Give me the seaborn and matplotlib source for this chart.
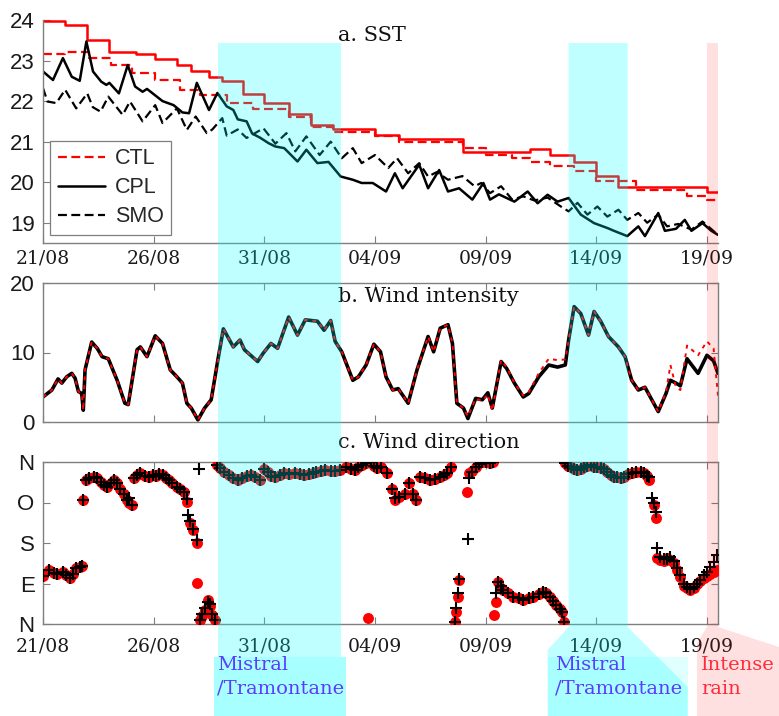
import numpy as np
import pandas as pd
import matplotlib
matplotlib.use("Agg")
import matplotlib.pyplot as plt
import seaborn as sns
from matplotlib.lines import Line2D
from matplotlib.patches import Polygon

# ---- x axis (days since 21/08) ----
tick_days = [0, 5, 10, 15, 20, 25, 30]
tick_labels = ["21/08", "26/08", "31/08", "04/09", "09/09", "14/09", "19/09"]
day_max = 30.5

# ---- event periods ----
mistral_periods = [(7.9, 13.45), (23.75, 26.42)]
rain_period = (30.0, 30.5)

# ---- a. SST ----
# red solid (step) and CTL red dashed (step): start day of each step, value
ref_step_days = [0, 1.0, 2.0, 3.0, 4.2, 5.07, 6.05, 6.7, 7.5, 8.1, 9.05, 10.0, 11.1, 12.1,
                 13.1, 15.0, 16.1, 19.0, 22.0, 22.9, 24.0, 25.0, 26.0, 30.0, 30.5]
ref_step_sst = [23.97, 23.88, 23.5, 23.22, 23.15, 23.05, 22.89, 22.75, 22.6, 22.5, 22.18, 21.95,
                21.68, 21.41, 21.31, 21.17, 21.06, 20.75, 20.81, 20.67, 20.51, 20.16, 19.88, 19.77, 19.77]
ctl_step_days = [0, 1.0, 2.1, 3.05, 4.0, 5.07, 6.2, 7.1, 8.3, 9.5, 11.1, 12.1, 13.1, 15.0,
                 16.1, 19.0, 20.0, 21.2, 22.0, 22.9, 24.0, 25.0, 26.8, 29.1, 30.0, 30.5]
ctl_step_sst = [23.15, 23.22, 23.06, 22.89, 22.69, 22.52, 22.28, 22.15, 21.95, 21.81, 21.6, 21.37,
                21.25, 21.13, 21.0, 20.84, 20.67, 20.59, 20.51, 20.4, 20.27, 20.03, 19.81, 19.65,
                19.57, 19.57]

cpl_days = [0.0, 0.45, 0.9, 1.3, 1.66, 1.96, 2.26, 2.63, 2.86, 3.0, 3.43, 3.83, 4.16, 4.5, 4.7,
            5.4, 5.9, 6.3, 6.6, 6.95, 7.5, 7.88, 8.3, 8.6, 8.8, 9.2, 9.45, 9.8, 10.2, 10.5,
            10.9, 11.5, 11.9, 12.4, 12.9, 13.45, 14.0, 14.4, 14.9, 15.5, 15.9, 16.25, 17.0,
            17.4, 17.9, 18.3, 18.8, 19.4, 19.9, 20.2, 20.6, 21.3, 21.9, 22.35, 22.8, 23.25,
            23.75, 24.3, 24.9, 25.5, 25.8, 26.4, 26.9, 27.2, 27.8, 28.1, 28.6, 29.0, 29.3,
            29.8, 30.2, 30.5]
cpl_sst = [22.73, 22.52, 23.06, 22.6, 22.5, 23.47, 22.73, 22.48, 22.4, 22.45, 22.19, 22.89, 22.36,
           22.23, 22.3, 22.0, 21.9, 21.72, 21.7, 22.45, 21.78, 22.2, 21.87, 21.78, 21.55, 21.5,
           21.2, 21.1, 20.96, 20.88, 20.84, 20.51, 20.8, 20.47, 20.5, 20.14, 20.06, 19.98, 19.98,
           19.77, 20.22, 19.85, 20.43, 19.85, 20.3, 19.77, 19.85, 19.57, 19.98, 19.57, 19.7,
           19.52, 19.77, 19.48, 19.69, 19.52, 19.61, 19.2, 18.99, 18.87, 18.8, 18.67, 18.91,
           18.67, 19.24, 18.8, 18.85, 19.07, 18.8, 18.99, 18.8, 18.7]

smo_days = [0.0, 0.2, 0.6, 1.0, 1.5, 2.0, 2.25, 2.6, 2.95, 3.6, 3.93, 4.5, 5.07, 5.4, 6.05, 6.5,
            6.9, 7.4, 7.65, 8.1, 8.3, 8.8, 9.2, 9.96, 10.5, 11.0, 11.4, 11.9, 12.5, 13.0, 13.5,
            14.0, 14.4, 15.0, 15.6, 16.0, 16.5, 17.0, 17.4, 17.8, 18.3, 18.95, 19.5, 19.8, 20.2,
            20.7, 21.2, 21.7, 22.2, 22.8, 23.4, 23.75, 24.15, 24.6, 25.05, 25.5, 26.0, 26.4,
            26.9, 27.3, 27.8, 28.2, 28.7, 29.3, 29.8, 30.5]
smo_sst = [22.32, 21.99, 21.95, 22.28, 21.82, 22.19, 21.85, 21.74, 22.11, 21.66, 21.99, 21.5,
           21.9, 21.46, 21.82, 21.29, 21.62, 21.21, 21.3, 21.58, 21.15, 21.3, 21.09, 21.33,
           20.95, 21.21, 20.76, 21.13, 20.67, 21.0, 20.59, 20.84, 20.47, 20.67, 20.35, 20.59,
           20.22, 20.47, 20.14, 20.25, 20.06, 20.15, 19.9, 19.98, 19.73, 19.9, 19.57, 19.65,
           19.55, 19.62, 19.4, 19.28, 19.49, 19.2, 19.4, 19.15, 19.32, 19.07, 19.24, 19.0,
           19.2, 18.91, 18.97, 18.83, 19.03, 18.7]

# ---- b. Wind intensity ----
wind_days = [0.0, 0.4, 0.68, 0.85, 1.07, 1.3, 1.45, 1.6, 1.75, 1.82, 1.9, 2.2, 2.45, 2.67,
             2.95, 3.35, 3.7, 3.85, 4.25, 4.4, 4.7, 5.07, 5.4, 5.75, 6.05, 6.3, 6.5, 6.7, 7.0,
             7.3, 7.6, 7.9, 8.15, 8.6, 8.9, 9.1, 9.7, 9.95, 10.3, 10.6, 11.1, 11.5, 11.85,
             12.4, 12.7, 13.0, 13.2, 13.5, 14.0, 14.25, 14.6, 14.95, 15.25, 15.5, 15.8, 16.05,
             16.5, 16.9, 17.4, 17.65, 17.95, 18.3, 18.5, 18.7, 19.0, 19.2, 19.55, 19.85, 20.1,
             20.3, 20.7, 20.95, 21.3, 21.7, 21.95, 22.4, 22.85, 23.25, 23.6, 23.75, 24.0, 24.3,
             24.65, 24.9, 25.2, 25.55, 26.0, 26.3, 26.6, 26.9, 27.2, 27.8, 28.15, 28.35, 28.6,
             28.8, 29.1, 29.6, 30.0, 30.3, 30.5]
wind_cpl = [3.6, 4.6, 6.2, 5.6, 6.5, 7.0, 6.3, 4.4, 4.1, 1.7, 7.5, 11.5, 10.6, 9.4, 9.1, 6.0,
            2.7, 2.5, 10.4, 10.8, 9.4, 12.4, 11.3, 7.5, 6.5, 5.6, 2.7, 2.0, 0.3, 2.0, 3.2, 8.9,
            13.4, 10.8, 11.8, 10.4, 8.7, 9.9, 11.3, 10.6, 15.1, 12.5, 14.7, 14.5, 13.2, 14.6,
            11.6, 10.1, 6.0, 6.5, 8.2, 11.2, 10.1, 6.5, 4.6, 4.8, 2.7, 7.5, 12.3, 10.1, 13.5,
            14.0, 11.3, 2.7, 2.0, 0.5, 3.4, 3.2, 4.2, 2.0, 8.7, 7.7, 5.6, 3.6, 4.1, 6.5, 8.2,
            7.9, 8.2, 11.8, 16.6, 15.6, 12.5, 15.9, 14.5, 12.3, 10.8, 9.4, 6.0, 4.6, 5.0, 1.5,
            4.1, 6.0, 5.6, 5.2, 9.1, 7.0, 9.6, 8.8, 7.0]
wind_ctl = [3.6, 4.6, 6.2, 5.6, 6.5, 7.0, 6.3, 4.4, 4.1, 1.7, 7.5, 11.5, 10.6, 9.4, 9.1, 6.0,
            2.7, 2.5, 10.4, 10.8, 9.4, 12.4, 11.3, 7.5, 6.5, 5.6, 2.7, 2.0, 0.3, 2.0, 3.2, 8.9,
            13.4, 10.8, 11.8, 10.4, 8.7, 9.9, 11.3, 10.6, 15.1, 12.5, 14.7, 14.5, 13.2, 14.6,
            11.6, 10.1, 6.0, 6.5, 8.2, 11.2, 10.1, 6.5, 4.6, 4.8, 2.7, 7.5, 12.3, 10.1, 13.5,
            14.0, 11.3, 2.7, 2.0, 0.8, 3.4, 3.0, 4.0, 1.6, 8.9, 7.9, 5.6, 3.8, 4.3, 7.0, 9.1,
            8.9, 9.0, 11.8, 16.6, 15.6, 12.5, 15.9, 14.5, 12.3, 10.8, 9.4, 6.0, 4.6, 5.0, 1.5,
            4.3, 8.2, 5.0, 4.6, 11.0, 9.6, 11.6, 10.6, 3.8]

# ---- c. Wind direction (deg, N=0/360) ----
dir_days = [0.0, 0.25, 0.5, 0.62, 0.9, 1.05, 1.2, 1.35, 1.5, 1.65, 1.75, 1.82,
            1.95, 2.1, 2.3, 2.45, 2.6, 2.75, 2.9, 3.05, 3.2, 3.35, 3.5, 3.65, 3.8, 3.9, 4.0,
            4.1, 4.25, 4.4, 4.6, 4.8, 4.95, 5.1, 5.25, 5.4, 5.55, 5.7, 5.85, 6.05, 6.2, 6.35,
            6.5, 6.57, 6.65, 6.8, 6.95, 6.98, 7.07, 7.1, 7.2, 7.3, 7.45, 7.55, 7.65, 7.75,
            7.85, 8.0, 8.2, 8.4, 8.6, 8.8, 9.0, 9.2, 9.4, 9.6, 9.8, 10.0, 10.15, 10.3, 10.5,
            10.7, 10.9, 11.1, 11.4, 11.6, 11.8, 12.0, 12.2, 12.35, 12.55, 12.75, 13.0, 13.2,
            13.4, 13.7, 13.9, 14.1, 14.25, 14.4, 14.6, 14.7, 14.8, 14.95, 15.1, 15.25, 15.55,
            15.75, 15.9, 16.1, 16.35, 16.55, 16.7, 16.85, 17.05, 17.25, 17.5, 17.7, 17.95,
            18.1, 18.25, 18.45, 18.6, 18.68, 18.75, 18.8, 19.17, 19.2, 19.25, 19.4, 19.55,
            19.7, 19.85, 20.0, 20.2, 20.35, 20.4, 20.45, 20.55, 20.7, 20.8, 21.0, 21.25,
            21.5, 21.7, 21.95, 22.15, 22.4, 22.6, 22.75, 22.9, 23.05, 23.2, 23.35, 23.45,
            23.55, 23.58, 23.7, 23.85, 24.0, 24.15, 24.3, 24.45, 24.6, 24.75, 24.9, 25.05,
            25.2, 25.35, 25.5, 25.65, 25.8, 25.95, 26.1, 26.25, 26.45, 26.6, 26.8, 27.0,
            27.15, 27.3, 27.4, 27.5, 27.6, 27.7, 27.75, 27.9, 28.05, 28.2, 28.35, 28.5,
            28.65, 28.8, 28.95, 29.1, 29.25, 29.4, 29.55, 29.7, 29.85, 30.0, 30.15, 30.3,
            30.45]
nan = np.nan
dir_ctl = [106, 120, 113, 111, 116, 110, 102, 112, 124, 127, 129, 276,
           320, 324, 327, 324, 316, 310, 305, 314, 320, 313, 300, 290, 276, 270, 264,
           325, 332, 335, 330, 327, 331, 330, 333, 331, 325, 320, 313, 305, 300, 294,
           272, nan, 224, 209, 180, 91, nan, 9, 18, 31, 53, 40, 20, 9,
           353, 346, 338, 331, 325, 320, 324, 328, 331, 326, 320, 345, 338, 330, 327,
           331, 335, 333, 335, 333, 331, 334, 336, 338, 340, 342, 340, 341,
           342, 350, 345, 342, 348, 353, 357, 13, 360, 352, 346, 350, 335,
           300, 276, 283, 290, 313, 290, 276, 327, 325, 320, 323, 327,
           331, 335, 350, 5, 27, 60, 98, 294, nan, 335, 340, 350,
           357, 359, 360, 358, 360, 20, 50, 94, 80, 76, 70, 61,
           58, 53, 58, 61, 66, 72, 68, 61, 52, 42, 33, 27,
           5, 357, 352, 348, 344, 342, 345, 348, 351, 353, 350, 349,
           346, 344, 338, 331, 327, 326, 325, 327, 333, 335, 337, 338,
           336, 330, 320, nan, 264, 235, 146, 143, 140, 147, 142, 135,
           120, 105, 85, 80, 76, 80, 88, 95, 102, 107, 112, 116,
           120]
dir_cpl = [106, 120, 113, 111, 116, 110, 102, 112, 124, 127, 129, 276,
           320, 324, 327, 324, 316, 310, 305, 314, 320, 313, 300, 290, 276, 280, 264,
           325, 332, 335, 330, 327, 331, 330, 333, 331, 325, 320, 313, 305, 300, 294,
           278, 242, 228, 212, 187, nan, 344, 9, 22, 35, 50, 45, 22, 9,
           353, 346, 338, 331, 325, 320, 324, 328, 331, 326, 320, 345, 338, 330, 327,
           331, 335, 333, 335, 333, 331, 334, 336, 338, 340, 342, 340, 341,
           342, 350, 345, 342, 348, 353, 357, nan, 360, 352, 346, 350, 335,
           300, 280, 283, 290, 313, 290, 276, 327, 325, 320, 323, 327,
           331, 335, 350, 5, 35, 68, 101, nan, 190, 324, 338, 348,
           355, 359, 360, 358, 360, nan, 69, 94, 85, 76, 70, 61,
           58, 53, 58, 61, 66, 72, 68, 61, 52, 42, 33, 27,
           5, 357, 352, 348, 344, 342, 345, 348, 351, 353, 350, 349,
           346, 344, 338, 331, 327, 326, 325, 327, 333, 335, 337, 338,
           336, 330, 327, 279, 268, 250, 168, 150, 145, 145, 150, 140,
           125, 108, 90, 82, 78, 83, 90, 98, 108, 116, 127, 137,
           153]
dir_ticks = [0, 90, 180, 270, 360]
dir_labels = ["N", "E", "S", "O", "N"]

# ---------------------------------------------------------------
sns.set_theme(style="white")
plt.rcParams["font.family"] = ["DejaVu Serif", "DejaVu Sans"]

W, H = 779, 716
fig = plt.figure(figsize=(W / 100, H / 100), dpi=100)


def px_rect(left, top, right, bottom):
    return [left / W, 1 - bottom / H, (right - left) / W, (bottom - top) / H]


ax_a = fig.add_axes(px_rect(43, 20, 718, 243))
ax_b = fig.add_axes(px_rect(43, 283, 718, 422))
ax_c = fig.add_axes(px_rect(43, 462, 718, 624))

red = "#ff0000"
dash = (0, (4, 2))

# panel a
sns.lineplot(x=ref_step_days, y=ref_step_sst, ax=ax_a, color=red, lw=1.8,
             drawstyle="steps-post", estimator=None, sort=False)
sns.lineplot(x=ctl_step_days, y=ctl_step_sst, ax=ax_a, color=red, lw=1.6,
             drawstyle="steps-post", linestyle=dash, estimator=None, sort=False)
sns.lineplot(x=smo_days, y=smo_sst, ax=ax_a, color="black", lw=1.6,
             linestyle=dash, estimator=None, sort=False)
sns.lineplot(x=cpl_days, y=cpl_sst, ax=ax_a, color="black", lw=1.8,
             estimator=None, sort=False)
ax_a.set_ylim(18.5, 24)
ax_a.set_yticks([19, 20, 21, 22, 23, 24])

# panel b
sns.lineplot(x=wind_days, y=wind_cpl, ax=ax_b, color="black", lw=2.6,
             estimator=None, sort=False)
sns.lineplot(x=wind_days, y=wind_ctl, ax=ax_b, color=red, lw=1.4,
             linestyle=(0, (2, 2.5)), estimator=None, sort=False)
ax_b.set_ylim(0, 20)
ax_b.set_yticks([0, 10, 20])

# panel c
sns.scatterplot(x=dir_days, y=dir_ctl, ax=ax_c, color=red, s=62, linewidth=0, zorder=3)
sns.scatterplot(x=dir_days, y=dir_cpl, ax=ax_c, color="black", marker="+", s=70,
                linewidth=1.5, zorder=4)
ax_c.set_ylim(0, 360)
ax_c.set_yticks(dir_ticks)
ax_c.set_yticklabels(dir_labels)

spine_col = "#7f7f7f"
for ax in (ax_a, ax_b, ax_c):
    ax.set_xlim(0, day_max)
    ax.set_xticks(tick_days)
    ax.set_xlabel("")
    ax.set_ylabel("")
    ax.tick_params(direction="in", length=5, width=0.8, color=spine_col,
                   labelsize=13.5, pad=5, labelcolor="#1a1a1a")
    ax.tick_params(axis="y", pad=6)
    for sp in ax.spines.values():
        sp.set_color(spine_col)
        sp.set_linewidth(1.0)
    for lab in ax.get_yticklabels():
        lab.set_fontfamily("Liberation Sans")
        lab.set_fontsize(16)

for ax in (ax_b, ax_c):
    ax.tick_params(top=True, right=True, bottom=True, left=True)
ax_a.spines["top"].set_visible(False)
ax_a.spines["right"].set_visible(False)
ax_a.tick_params(bottom=True, left=True)
ax_c.tick_params(axis="x", pad=10)

ax_a.set_xticklabels(tick_labels)
ax_c.set_xticklabels(tick_labels)
ax_b.set_xticklabels([])

title_kw = dict(fontsize=15, family="DejaVu Serif", color="#111111", va="center", ha="left")
ax_a.text(0.437, 0.932, "a. SST", transform=ax_a.transAxes, **title_kw)
ax_b.text(0.437, 0.90, "b. Wind intensity", transform=ax_b.transAxes, **title_kw)
ax_c.text(0.437, 1.123, "c. Wind direction", transform=ax_c.transAxes, **title_kw)

handles = [Line2D([], [], color=red, lw=1.6, linestyle=dash),
           Line2D([], [], color="black", lw=1.8),
           Line2D([], [], color="black", lw=1.6, linestyle=dash)]
leg = ax_a.legend(handles, ["CTL", "CPL", "SMO"], loc="lower left",
                  bbox_to_anchor=(7 / 675, 8 / 223), prop={"family": "Liberation Sans", "size": 15.5},
                  frameon=True, fancybox=False, edgecolor=spine_col, framealpha=1,
                  handlelength=2.2, borderpad=0.35, labelspacing=0.38, handletextpad=0.45,
                  borderaxespad=0)
leg.get_frame().set_linewidth(0.9)

# ---- event bands drawn over the panels ----
fig.canvas.draw()


def day_px(day):
    return ax_a.transData.transform((day, 0))[0]


def add_poly(verts, color, alpha):
    pts = [(x / W, 1 - y / H) for x, y in verts]
    fig.add_artist(Polygon(pts, closed=True, transform=fig.transFigure, facecolor=color,
                           edgecolor="none", alpha=alpha, zorder=10))


band_top, axis_bottom, box_top = 43, 627, 657
cyan = "#00ffff"
m0, m1 = mistral_periods[0]
x0, x1 = day_px(m0), day_px(m1)
add_poly([(x0, band_top), (x1, band_top), (x1, box_top), (x1 + 5, box_top), (x1 + 5, H),
          (x0 - 4, H), (x0 - 4, box_top), (x0, box_top)], cyan, 0.25)
add_poly([(x0 - 4, box_top), (x1 + 5, box_top), (x1 + 5, H), (x0 - 4, H)], cyan, 0.12)

m0, m1 = mistral_periods[1]
x0, x1 = day_px(m0), day_px(m1)
add_poly([(x0, band_top), (x1, band_top), (x1, axis_bottom), (x1 + 60, axis_bottom + 60),
          (x1 + 60, H), (x0 - 21, H), (x0 - 21, axis_bottom + 23), (x0, axis_bottom)], cyan, 0.25)
add_poly([(x0 - 21, box_top), (x1 + 60, box_top), (x1 + 60, H), (x0 - 21, H)], cyan, 0.12)

r0, r1 = rain_period
x0, x1 = day_px(r0), day_px(r1)
add_poly([(x0, band_top), (x1, band_top), (x1, axis_bottom), (W, axis_bottom + 20), (W, H),
          (x0 - 10, H), (x0 - 10, axis_bottom + 16), (x0, axis_bottom)], red, 0.12)

note_kw = dict(fontsize=14, family="DejaVu Serif", va="top", ha="left", linespacing=1.4,
               zorder=12, transform=fig.transFigure)
fig.text((day_px(mistral_periods[0][0]) - 1) / W, 1 - 656 / H, "Mistral\n/Tramontane",
         color="#5a3cff", **note_kw)
fig.text((day_px(mistral_periods[1][0]) - 14) / W, 1 - 656 / H, "Mistral\n/Tramontane",
         color="#5a3cff", **note_kw)
fig.text((day_px(rain_period[0]) - 6) / W, 1 - 656 / H, "Intense\nrain",
         color="#ff2a3a", **note_kw)

fig.savefig("out.png", dpi=100)
